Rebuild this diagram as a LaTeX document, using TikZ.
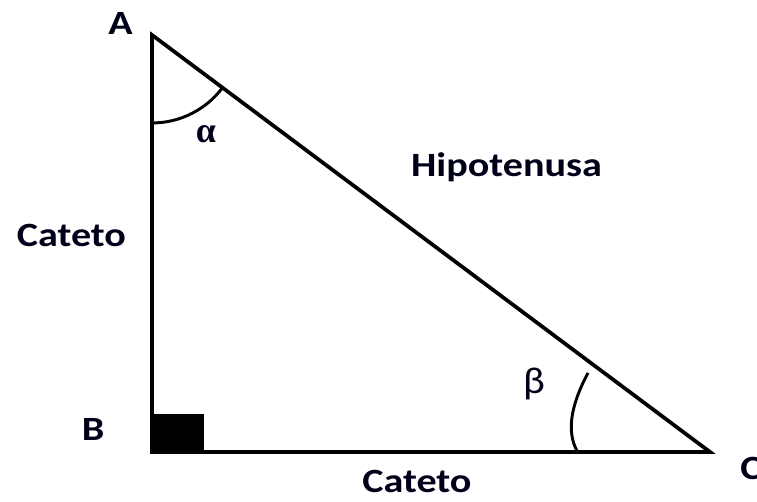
\documentclass[tikz,border=0pt]{standalone}
\usepackage{fontspec}
\setmainfont{Carlito}
\newfontfamily\greekserif{Liberation Serif}
\begin{document}
\begin{tikzpicture}[x=0.75pt,y=0.75pt,
  lbl/.style={anchor=base,inner sep=0pt,text=black!90!blue,font=\fontsize{25.5}{30}\selectfont\bfseries},
  side/.style={line width=2.8pt},
  anglearc/.style={line width=2.2pt}]
\useasboundingbox (0,0) rectangle (757,502);
\coordinate (A) at (152,467);
\coordinate (B) at (152,50);
\coordinate (C) at (710,50);
% right-angle square
\fill[black] (152,50) rectangle (204,88);
% triangle
\draw[side] (A) -- (B) -- (C) -- cycle;
% alpha arc
\draw[anglearc] (A) ++(270:88) arc[start angle=270, end angle=323.2, radius=88];
% beta arc
\draw[anglearc] (577,51) .. controls (566.7,70.3) and (570.3,96) .. (588,129);
% labels
\node[lbl] (lA) at (120.5,467) {\scalebox{1.18}[1]{A}};
\node[lbl] (lB) at (93,61) {\scalebox{1.18}[1]{B}};
\node[lbl,anchor=base west] (lC) at (740,22) {\scalebox{1.18}[1]{C}};
\node[lbl] (cat1) at (71.5,255) {\scalebox{1.18}[1]{Cateto}};
\node[lbl] (hip) at (506.5,325) {\scalebox{1.18}[1]{Hipotenusa}};
\node[lbl] (cat2) at (417,9) {\scalebox{1.18}[1]{Cateto}};
\node[lbl,font=\fontsize{27}{30}\selectfont\greekserif\bfseries] (alpha) at (206,359) {α};
\node[lbl,font=\fontsize{28}{30}\selectfont] (beta) at (534,108) {\scalebox{1.1}[1]{β}};
\end{tikzpicture}
\end{document}
